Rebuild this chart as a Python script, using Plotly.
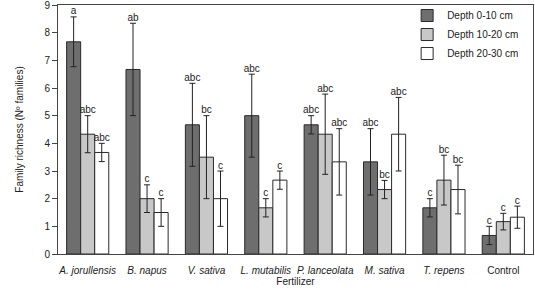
import plotly.graph_objects as go

categories = ["A. jorullensis", "B. napus", "V. sativa", "L. mutabilis",
              "P. lanceolata", "M. sativa", "T. repens", "Control"]
tick_labels = ["<i>A. jorullensis</i>", "<i>B. napus</i>", "<i>V. sativa</i>",
               "<i>L. mutabilis</i>", "<i>P. lanceolata</i>", "<i>M. sativa</i>",
               "<i>T. repens</i>", "Control"]

series_names = ["Depth 0-10 cm", "Depth 10-20 cm", "Depth 20-30 cm"]
values = [
    [7.67, 6.67, 4.67, 5.00, 4.67, 3.33, 1.67, 0.67],
    [4.33, 2.00, 3.50, 1.67, 4.33, 2.33, 2.67, 1.17],
    [3.67, 1.50, 2.00, 2.67, 3.33, 4.33, 2.33, 1.33],
]
errors = [
    [0.90, 1.67, 1.50, 1.50, 0.33, 1.20, 0.33, 0.33],
    [0.67, 0.50, 1.50, 0.33, 1.45, 0.33, 0.90, 0.30],
    [0.33, 0.50, 1.00, 0.33, 1.20, 1.33, 0.88, 0.40],
]
letters = [
    ["a", "ab", "abc", "abc", "abc", "abc", "c", "c"],
    ["abc", "c", "bc", "c", "abc", "bc", "bc", "c"],
    ["abc", "c", "c", "c", "abc", "abc", "bc", "c"],
]
colors = ["#6e6e6e", "#c8c8c8", "#ffffff"]

FONT = "Liberation Sans, Arial, sans-serif"

fig = go.Figure()
for i in range(3):
    fig.add_trace(go.Bar(
        x=categories, y=values[i], name=series_names[i],
        marker=dict(color=colors[i], line=dict(color="#2a2a2a", width=1)),
        error_y=dict(type="data", array=errors[i], color="#222222",
                     thickness=1, width=3),
        offsetgroup=str(i),
    ))
for i in range(3):
    tops = [v + e for v, e in zip(values[i], errors[i])]
    fig.add_trace(go.Scatter(
        x=categories, y=tops, mode="text", text=letters[i],
        textposition="top center", textfont=dict(size=10, color="#222222", family=FONT),
        offsetgroup=str(i), showlegend=False, hoverinfo="skip",
    ))

fig.update_layout(
    width=535, height=290,
    margin=dict(l=58, r=2, t=5, b=36, autoexpand=False),
    barmode="group", bargap=0.29, bargroupgap=0,
    scattermode="group", scattergap=0.29,
    plot_bgcolor="white", paper_bgcolor="white",
    font=dict(family=FONT, size=10, color="#222222"),
    legend=dict(x=0.735, y=1.016, xanchor="left", yanchor="top",
                font=dict(size=10), bgcolor="rgba(0,0,0,0)",
                itemwidth=30, tracegroupgap=0),
    showlegend=True,
)
fig.update_xaxes(
    tickvals=categories, ticktext=tick_labels, automargin=False,
    showline=True, linecolor="#444444", linewidth=1, mirror=True,
    ticks="outside", ticklen=7, tickcolor="rgba(0,0,0,0)",
    title=dict(text="Fertilizer", font=dict(size=10), standoff=2),
    tickfont=dict(size=10), ticklabeloverflow="allow",
)
fig.update_yaxes(
    range=[0, 9], dtick=1, showgrid=False, zeroline=False, automargin=False,
    showline=True, linecolor="#444444", linewidth=1, mirror=True,
    ticks="outside", ticklen=5, tickcolor="#444444",
    title=dict(text="Family richness (Nº families)", font=dict(size=10), standoff=18),
    tickfont=dict(size=10), ticklabeloverflow="allow",
)

fig.write_html("out.html", config={"displayModeBar": False},
               post_script="document.body.style.margin='0';")
